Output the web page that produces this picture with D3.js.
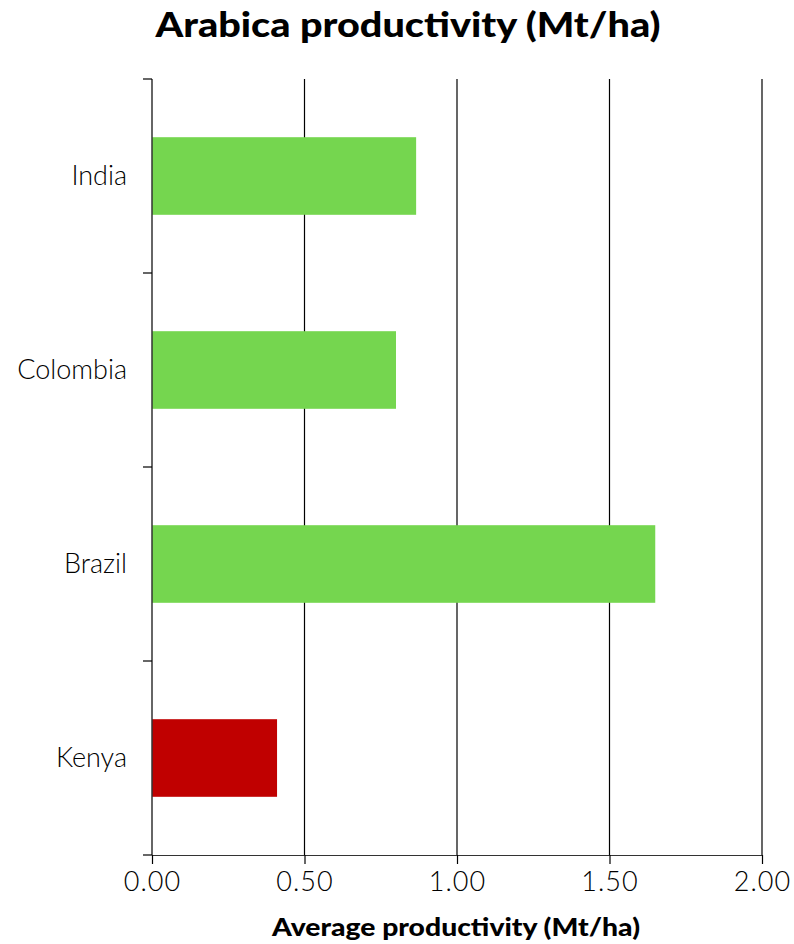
<!DOCTYPE html>
<html>
<head>
<meta charset="utf-8">
<script src="https://cdn.jsdelivr.net/npm/d3@7"></script>
<style>
  html, body { margin: 0; padding: 0; background: #fff; }
  svg { display: block; }
  text { font-family: "Lato", "Noto Sans", sans-serif; fill: #000; }
</style>
</head>
<body>
<svg id="chart" width="794" height="944"></svg>
<script>
// Average Arabica productivity by country
const countries = ["India", "Colombia", "Brazil", "Kenya"];
const productivity = [0.866, 0.80, 1.65, 0.41];
const barColors = ["#75d64f", "#75d64f", "#75d64f", "#c00000"];
const xTicks = [0, 0.5, 1.0, 1.5, 2.0];

const chartTitle = "Arabica productivity (Mt/ha)";
const xTitle = "Average productivity (Mt/ha)";

const svg = d3.select("#chart");
const margin = { top: 79, right: 32, bottom: 89, left: 152 };
const W = 794, H = 944;
const innerW = W - margin.left - margin.right;
const innerH = H - margin.top - margin.bottom;

const x = d3.scaleLinear().domain([0, 2]).range([0, innerW]);
const y = d3.scaleBand().domain(countries).range([0, innerH])
  .paddingInner(0.6).paddingOuter(0.3);

const g = svg.append("g").attr("transform", `translate(${margin.left},${margin.top})`);

// vertical gridlines
g.append("g")
  .selectAll("line")
  .data(xTicks.slice(1))
  .join("line")
  .attr("x1", d => x(d)).attr("x2", d => x(d))
  .attr("y1", 0).attr("y2", innerH)
  .attr("stroke", "#000").attr("stroke-width", 1.2);

// bars
g.append("g")
  .selectAll("rect")
  .data(countries)
  .join("rect")
  .attr("x", 0)
  .attr("y", d => y(d))
  .attr("width", (d, i) => x(productivity[i]))
  .attr("height", y.bandwidth())
  .attr("fill", (d, i) => barColors[i]);

// x axis
const xAxis = g.append("g")
  .attr("transform", `translate(0,${innerH})`)
  .call(d3.axisBottom(x).tickValues(xTicks).tickFormat(d3.format(".2f")).tickSize(9).tickSizeOuter(0).tickPadding(8));
xAxis.select(".domain").attr("stroke", "#333").attr("stroke-width", 1.2);
xAxis.selectAll(".tick line").attr("stroke", "#000").attr("stroke-width", 1.2);
xAxis.selectAll("text")
  .style("font-family", "Lato, sans-serif")
  .style("font-weight", 300)
  .style("letter-spacing", "1px")
  .attr("font-size", 27)
  .attr("fill", "#000");

// y axis: line plus ticks on category boundaries
const yAxisG = g.append("g");
yAxisG.append("line")
  .attr("x1", 0).attr("x2", 0).attr("y1", 0).attr("y2", innerH)
  .attr("stroke", "#333").attr("stroke-width", 1.5);
const boundaries = [0].concat(countries.map(c => y(c) + y.bandwidth() + y.step() * 0.3));
yAxisG.selectAll("line.tk")
  .data(boundaries)
  .join("line")
  .attr("class", "tk")
  .attr("x1", -9).attr("x2", 0)
  .attr("y1", d => d).attr("y2", d => d)
  .attr("stroke", "#000").attr("stroke-width", 1.2);
yAxisG.selectAll("text")
  .data(countries)
  .join("text")
  .attr("x", -25)
  .attr("y", d => y(d) + y.bandwidth() / 2)
  .attr("dy", "0.35em")
  .attr("text-anchor", "end")
  .attr("font-size", 27)
  .style("font-weight", 300)
  .text(d => d);

// titles
svg.append("text")
  .attr("x", 408).attr("y", 37)
  .attr("text-anchor", "middle")
  .attr("font-size", 35)
  .attr("textLength", 505)
  .attr("lengthAdjust", "spacingAndGlyphs")
  .style("font-weight", 900)
  .text(chartTitle);

svg.append("text")
  .attr("x", 456).attr("y", 936)
  .attr("text-anchor", "middle")
  .attr("font-size", 25)
  .attr("textLength", 368)
  .attr("lengthAdjust", "spacingAndGlyphs")
  .style("font-weight", 900)
  .text(xTitle);
</script>
</body>
</html>
